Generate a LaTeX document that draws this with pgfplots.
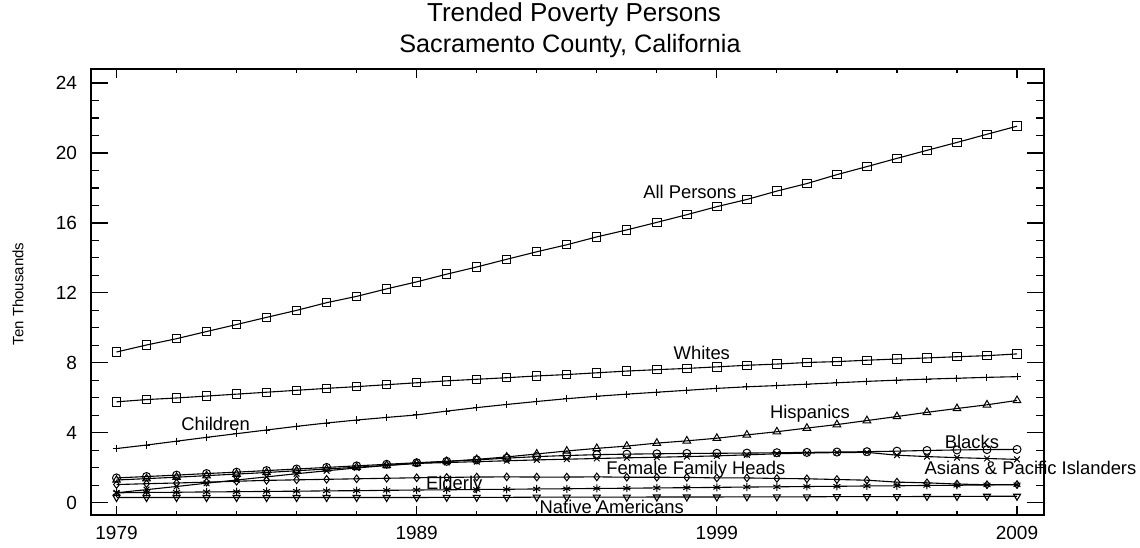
\documentclass[border=0pt]{standalone}
\usepackage{fontspec}
\setmainfont{Liberation Sans}
\usepackage{pgfplots}
\usepackage{pgfplotstable}
\pgfplotsset{compat=1.18}

% Persons in poverty, in ten thousands
\pgfplotstableread{
year allp  whites children hisp blacks asians ffh  elderly native
1979 8.62  5.77   3.10     1.30 1.42   0.57   1.04 0.57    0.30
1980 9.02  5.90   3.30     1.38 1.50   0.75   1.09 0.59    0.30
1981 9.38  5.99   3.52     1.46 1.58   0.93   1.13 0.60    0.30
1982 9.79  6.10   3.74     1.55 1.67   1.12   1.18 0.62    0.30
1983 10.19 6.21   3.95     1.64 1.75   1.30   1.23 0.63    0.30
1984 10.60 6.32   4.16     1.73 1.84   1.48   1.28 0.65    0.30
1985 11.00 6.43   4.37     1.83 1.93   1.66   1.31 0.66    0.30
1986 11.44 6.54   4.56     1.93 2.02   1.83   1.34 0.68    0.30
1987 11.80 6.64   4.73     2.03 2.11   1.99   1.37 0.69    0.30
1988 12.23 6.75   4.88     2.14 2.20   2.13   1.40 0.71    0.30
1989 12.63 6.86   5.02     2.25 2.29   2.25   1.43 0.73    0.30
1990 13.07 6.97   5.24     2.36 2.37   2.30   1.45 0.74    0.31
1991 13.48 7.06   5.44     2.48 2.45   2.35   1.47 0.76    0.31
1992 13.92 7.15   5.62     2.62 2.55   2.40   1.48 0.77    0.31
1993 14.35 7.25   5.79     2.79 2.64   2.45   1.47 0.79    0.32
1994 14.75 7.33   5.95     2.96 2.70   2.49   1.47 0.80    0.32
1995 15.20 7.43   6.09     3.11 2.75   2.53   1.48 0.82    0.32
1996 15.60 7.53   6.21     3.24 2.78   2.57   1.46 0.83    0.32
1997 16.03 7.61   6.32     3.41 2.80   2.60   1.46 0.85    0.33
1998 16.47 7.68   6.43     3.54 2.82   2.64   1.45 0.86    0.33
1999 16.93 7.77   6.54     3.69 2.83   2.68   1.42 0.88    0.33
2000 17.34 7.86   6.63     3.88 2.84   2.74   1.42 0.90    0.34
2001 17.82 7.93   6.70     4.06 2.86   2.80   1.39 0.91    0.34
2002 18.25 8.02   6.78     4.27 2.88   2.84   1.37 0.93    0.34
2003 18.76 8.07   6.86     4.47 2.90   2.87   1.33 0.94    0.35
2004 19.22 8.15   6.94     4.70 2.92   2.88   1.29 0.96    0.35
2005 19.69 8.22   7.01     4.93 2.95   2.72   1.18 0.97    0.35
2006 20.15 8.28   7.07     5.17 2.99   2.64   1.14 0.99    0.36
2007 20.60 8.35   7.12     5.39 3.02   2.58   1.07 1.00    0.36
2008 21.07 8.41   7.17     5.60 3.04   2.53   1.03 1.02    0.37
2009 21.53 8.51   7.21     5.85 3.05   2.48   1.04 1.03    0.37
}\poverty

\begin{document}
\begin{tikzpicture}[serieslabel/.style={font=\fontsize{9.2}{11}\selectfont, inner sep=0pt}]
% main axis: data, y ticks
\begin{axis}[
  at={(0,0)}, anchor=south west,
  scale only axis, width=476.5pt, height=223pt,
  xmin=1978.15, xmax=2009.9, ymin=-0.7, ymax=24.8,
  xtick=\empty,
  ytick={0,4,...,24}, minor y tick num=3,
  tick align=inside,
  major tick length=8.5pt, minor tick length=4pt,
  axis line style={line width=0.75pt},
  every tick/.style={black, line width=0.6pt},
  yticklabel style={font=\fontsize{9.5}{11}\selectfont, xshift=-3.5pt},
  /pgf/number format/assume math mode=true,
  clip=false,
  every axis plot/.append style={black, line width=0.55pt, mark options={solid, line width=0.5pt}},
]
\addplot[mark=square, mark size=2.1pt] table[x=year, y=allp] {\poverty};
\addplot[mark=square, mark size=2.1pt] table[x=year, y=whites] {\poverty};
\addplot[mark=+, mark size=1.8pt] table[x=year, y=children] {\poverty};
\addplot[mark=triangle, mark size=2.2pt] table[x=year, y=hisp] {\poverty};
\addplot[mark=o, mark size=2pt] table[x=year, y=blacks] {\poverty};
\addplot[mark=x, mark size=2pt] table[x=year, y=asians] {\poverty};
\addplot[mark=diamond, mark size=1.9pt] table[x=year, y=ffh] {\poverty};
\addplot[mark=asterisk, mark size=2pt] table[x=year, y=elderly] {\poverty};
\addplot[mark=triangle, mark size=2pt, mark options={rotate=180}] table[x=year, y=native] {\poverty};

\node[serieslabel] at (axis cs:1998.1,17.8) {All Persons};
\node[serieslabel] at (axis cs:1998.5,8.55) {Whites};
\node[serieslabel] at (axis cs:1982.3,4.53) {Children};
\node[serieslabel] at (axis cs:2002.1,5.07) {Hispanics};
\node[serieslabel] at (axis cs:2007.5,3.5) {Blacks};
\node[serieslabel] at (axis cs:2009.45,1.99) {Asians \& Pacific Islanders};
\node[serieslabel] at (axis cs:1998.3,1.91) {Female Family Heads};
\node[serieslabel] at (axis cs:1990.25,1.05) {Elderly};
\node[serieslabel] at (axis cs:1995.5,-0.23) {Native Americans};
\end{axis}

% overlaid axis carrying the year ticks
\begin{axis}[
  at={(0,0)}, anchor=south west,
  scale only axis, width=476.5pt, height=223pt,
  xmin=1978.15, xmax=2009.9, ymin=-0.7, ymax=24.8,
  ytick=\empty,
  xtick={1979,1989,1999,2009}, minor x tick num=4,
  tick align=inside,
  major tick length=4.5pt, minor tick length=1.8pt,
  axis line style={line width=0.75pt},
  every tick/.style={black, line width=0.6pt},
  scaled x ticks=false,
  xticklabel={\pgfmathprintnumber[1000 sep={}]{\tick}},
  xticklabel style={font=\fontsize{9.5}{11}\selectfont, yshift=-2pt},
  /pgf/number format/assume math mode=true,
]
\end{axis}

\node[font=\fontsize{13}{15}\selectfont] at (241.5pt,250pt) {Trended Poverty Persons};
\node[font=\fontsize{12.6}{14}\selectfont] at (239.5pt,234.5pt) {Sacramento County, California};
\node[font=\fontsize{7.5}{8}\selectfont, rotate=90] at (-36.5pt,110.5pt) {Ten Thousands};

\pgfresetboundingbox
\path[use as bounding box] (-45.5pt,-16pt) rectangle (524.5pt,257.5pt);
\end{tikzpicture}
\end{document}
